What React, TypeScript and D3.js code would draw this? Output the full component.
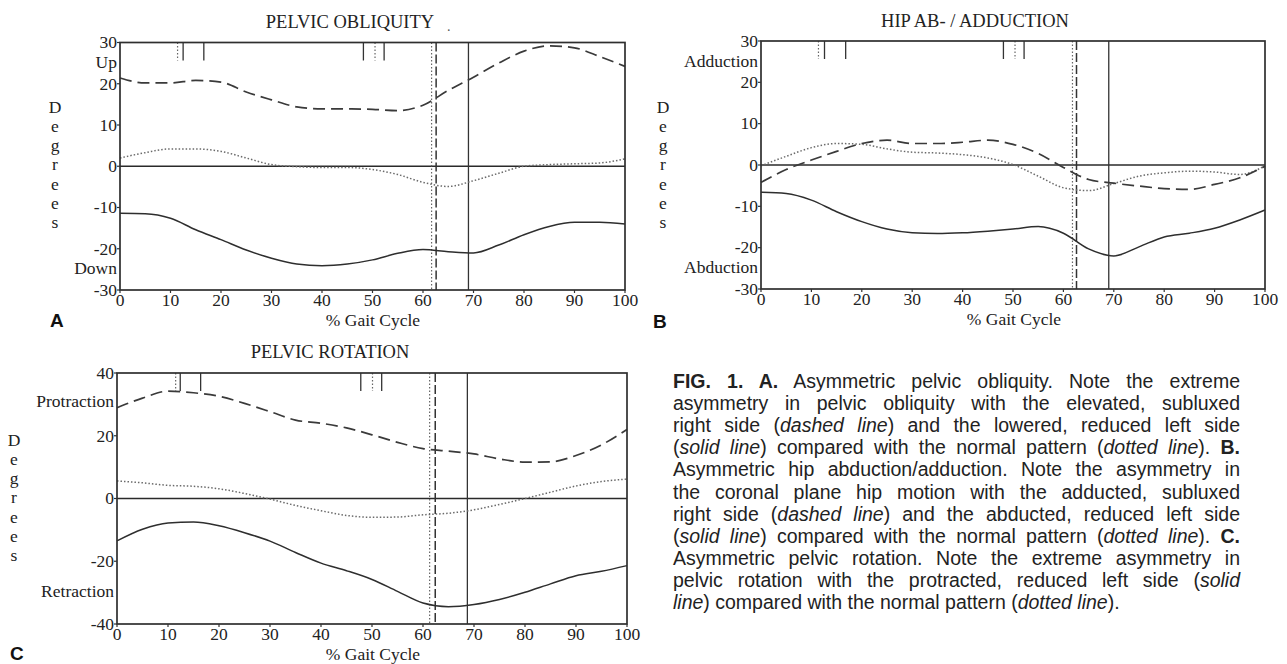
import React, { useLayoutEffect, useRef } from "react";
import * as d3 from "d3";

// ---------- DATA ----------
const gaitPct = [0, 5, 10, 15, 20, 25, 30, 35, 40, 45, 50, 55, 60, 65, 70, 75, 80, 85, 90, 95, 100];
const xTickValues = [0, 10, 20, 30, 40, 50, 60, 70, 80, 90, 100];

// A. Pelvic obliquity
const obliquityRight = [21.4, 20.2, 20.2, 20.8, 20.4, 18.0, 16.1, 14.4, 13.9, 13.9, 13.8, 13.5, 14.8, 18.4, 21.6, 25.0, 27.9, 29.2, 28.7, 26.6, 24.2];
const obliquityNormal = [2.0, 3.3, 4.2, 4.2, 3.6, 2.0, 0.4, -0.1, -0.3, -0.3, -0.8, -2.0, -3.9, -4.9, -3.5, -1.7, 0.0, 0.4, 0.6, 0.8, 1.8];
const obliquityLeft = [-11.4, -11.5, -12.6, -15.4, -17.8, -20.3, -22.3, -23.7, -24.1, -23.7, -22.7, -21.1, -20.2, -20.7, -21.0, -19.1, -16.6, -14.6, -13.6, -13.6, -14.0];
const obliquityTicks = [30, 20, 10, 0, -10, -20, -30];
const obliquityWords = [{ label: "Up", value: 25.2 }, { label: "Down", value: -24.6 }];
const obliquityFootDotted = [11.4, 50.5];
const obliquityFootSolid = [12.5, 16.6, 48.2, 52.3];
const obliquityEvents = { dotted: 61.7, dashed: 62.6, solid: 69.0 };

// B. Hip ab-/adduction
const hipRight = [-4.2, -1.1, 1.2, 3.3, 5.2, 6.0, 5.2, 5.2, 5.5, 6.0, 5.0, 2.8, -0.6, -3.5, -4.4, -5.1, -5.7, -5.9, -4.7, -3.1, -0.3];
const hipNormal = [-0.2, 2.1, 4.2, 5.2, 5.0, 3.9, 3.1, 2.9, 2.5, 1.7, 0.1, -2.7, -5.5, -6.2, -4.5, -2.7, -1.9, -1.5, -1.7, -2.3, -0.2];
const hipLeft = [-6.6, -6.9, -8.5, -11.3, -13.7, -15.5, -16.4, -16.6, -16.4, -16.0, -15.5, -14.9, -16.5, -20.3, -22.0, -19.8, -17.4, -16.5, -15.3, -13.3, -10.9];
const hipTicks = [30, 20, 10, 0, -10, -20, -30];
const hipWords = [{ label: "Adduction", value: 25.2 }, { label: "Abduction", value: -24.8 }];
const hipFootDotted = [11.4, 50.4];
const hipFootSolid = [12.6, 16.8, 48.1, 52.2];
const hipEvents = { dotted: 61.8, dashed: 62.6, solid: 69.0 };

// C. Pelvic rotation
const rotationRight = [28.9, 32.0, 34.2, 33.7, 32.6, 30.3, 27.7, 25.0, 24.0, 22.5, 20.3, 17.9, 15.9, 15.1, 14.2, 12.6, 11.6, 11.7, 13.7, 17.1, 22.0];
const rotationNormal = [5.6, 5.0, 4.2, 3.9, 3.1, 1.6, -0.2, -2.2, -3.9, -5.4, -6.0, -5.9, -5.2, -4.7, -3.6, -1.9, 0.0, 2.0, 4.0, 5.4, 6.2];
const rotationLeft = [-13.5, -9.8, -7.8, -7.5, -8.7, -10.9, -13.6, -17.2, -20.6, -23.0, -25.8, -29.6, -33.3, -34.5, -33.8, -32.2, -29.9, -27.2, -24.6, -23.2, -21.4];
const rotationTicks = [40, 20, 0, -20, -40];
const rotationWords = [{ label: "Protraction", value: 30.9 }, { label: "Retraction", value: -29.4 }];
const rotationFootDotted = [11.5, 50.1];
const rotationFootSolid = [12.4, 16.4, 47.8, 51.9];
const rotationEvents = { dotted: 61.3, dashed: 62.4, solid: 68.7 };

// Caption lines: segments [text, style] with style n=normal, b=bold, i=italic
const captionLines: [string, string][][] = [
  [["FIG. 1. A.", "b"], [" Asymmetric pelvic obliquity. Note the extreme", "n"]],
  [["asymmetry in pelvic obliquity with the elevated, subluxed", "n"]],
  [["right side (", "n"], ["dashed line", "i"], [") and the lowered, reduced left side", "n"]],
  [["(", "n"], ["solid line", "i"], [") compared with the normal pattern (", "n"], ["dotted line", "i"], ["). ", "n"], ["B.", "b"]],
  [["Asymmetric hip abduction/adduction. Note the asymmetry in", "n"]],
  [["the coronal plane hip motion with the adducted, subluxed", "n"]],
  [["right side (", "n"], ["dashed line", "i"], [") and the abducted, reduced left side", "n"]],
  [["(", "n"], ["solid line", "i"], [") compared with the normal pattern (", "n"], ["dotted line", "i"], ["). ", "n"], ["C.", "b"]],
  [["Asymmetric pelvic rotation. Note the extreme asymmetry in", "n"]],
  [["pelvic rotation with the protracted, reduced left side (", "n"], ["solid", "i"]],
  [["line", "i"], [") compared with the normal pattern (", "n"], ["dotted line", "i"], [").", "n"]],
];

// ---------- LAYOUT ----------
const SERIF = "'Liberation Serif', 'Times New Roman', serif";
const SANS = "'Liberation Sans', Arial, sans-serif";
const FS_TITLE = 18.5;
const FS = 17.5;
const INK = "#222";

type PanelCfg = {
  left: number; right: number; top: number; bottom: number;
  yMin: number; yMax: number;
  title: string; titleX: number; titleY: number;
  degX: number; degY: number;
  letter: string; letterX: number; letterY: number;
  gaitX: number; gaitY: number; tickY: number;
  stray?: { x: number; y: number };
};

const panelA: PanelCfg = {
  left: 120, right: 625, top: 42.5, bottom: 290, yMin: -30, yMax: 30,
  title: "PELVIC OBLIQUITY", titleX: 350, titleY: 28,
  degX: 55, degY: 107, letter: "A", letterX: 50, letterY: 327,
  gaitX: 373, gaitY: 325.5, tickY: 306, stray: { x: 447, y: 31 },
};
const panelB: PanelCfg = {
  left: 761, right: 1265, top: 41, bottom: 289, yMin: -30, yMax: 30,
  title: "HIP AB- / ADDUCTION", titleX: 975, titleY: 27,
  degX: 663, degY: 107, letter: "B", letterX: 653, letterY: 328,
  gaitX: 1014, gaitY: 324.5, tickY: 305,
};
const panelC: PanelCfg = {
  left: 117, right: 627, top: 373, bottom: 624, yMin: -40, yMax: 40,
  title: "PELVIC ROTATION", titleX: 330, titleY: 358,
  degX: 14, degY: 440, letter: "C", letterX: 10, letterY: 660,
  gaitX: 373, gaitY: 659.5, tickY: 640,
};

function Panel({ cfg, right, normal, left, yTicks, words, footDotted, footSolid, events }: any) {
  const x = d3.scaleLinear().domain([0, 100]).range([cfg.left, cfg.right]);
  const y = d3.scaleLinear().domain([cfg.yMin, cfg.yMax]).range([cfg.bottom, cfg.top]);
  const line = d3.line<number>()
    .x((_, i) => x(gaitPct[i]))
    .y((d) => y(d))
    .curve(d3.curveMonotoneX);
  const footLen = 18;
  const letters = "Degrees".split("");
  return (
    <g>
      <text x={cfg.titleX} y={cfg.titleY} textAnchor="middle" fontFamily={SERIF} fontSize={FS_TITLE} fill={INK}>{cfg.title}</text>
      {cfg.stray && <text x={cfg.stray.x} y={cfg.stray.y} fontFamily={SERIF} fontSize={14} fill="#555">.</text>}
      {/* zero line */}
      <line x1={cfg.left} x2={cfg.right} y1={y(0)} y2={y(0)} stroke="#2a2a2a" strokeWidth={1.5} />
      {/* events */}
      <line x1={x(events.dotted)} x2={x(events.dotted)} y1={cfg.top} y2={cfg.bottom} stroke="#666" strokeWidth={1.2} strokeDasharray="1.5 2" />
      <line x1={x(events.dashed)} x2={x(events.dashed)} y1={cfg.top} y2={cfg.bottom} stroke="#333" strokeWidth={1.5} strokeDasharray="9 3" />
      <line x1={x(events.solid)} x2={x(events.solid)} y1={cfg.top} y2={cfg.bottom} stroke="#333" strokeWidth={1.3} />
      {footDotted.map((v: number, i: number) => (
        <line key={"fd" + i} x1={x(v)} x2={x(v)} y1={cfg.top} y2={cfg.top + footLen} stroke="#666" strokeWidth={1.2} strokeDasharray="1.5 2" />
      ))}
      {footSolid.map((v: number, i: number) => (
        <line key={"fs" + i} x1={x(v)} x2={x(v)} y1={cfg.top} y2={cfg.top + footLen} stroke="#333" strokeWidth={1.3} />
      ))}
      {/* data */}
      <path d={line(normal) || ""} fill="none" stroke="#6a6a6a" strokeWidth={1.5} strokeDasharray="1.5 2" />
      <path d={line(right) || ""} fill="none" stroke="#3a3a3a" strokeWidth={1.7} strokeDasharray="12 6" />
      <path d={line(left) || ""} fill="none" stroke="#2e2e2e" strokeWidth={1.5} />
      {/* frame */}
      <rect x={cfg.left} y={cfg.top} width={cfg.right - cfg.left} height={cfg.bottom - cfg.top} fill="none" stroke="#2e2e2e" strokeWidth={1.7} />
      {/* y ticks */}
      {yTicks.map((t: number) => (
        <g key={"yt" + t}>
          <line x1={cfg.left - 3} x2={cfg.left} y1={y(t)} y2={y(t)} stroke="#333" strokeWidth={1.2} />
          <text x={cfg.left - 3} y={y(t)} dy="0.33em" textAnchor="end" fontFamily={SERIF} fontSize={FS} fill={INK}>{t}</text>
        </g>
      ))}
      {words.map((w: any) => (
        <text key={w.label} x={cfg.left - 3} y={y(w.value)} dy="0.33em" textAnchor="end" fontFamily={SERIF} fontSize={FS} fill={INK}>{w.label}</text>
      ))}
      {/* x ticks */}
      {xTickValues.map((t) => (
        <g key={"xt" + t}>
          <line x1={x(t)} x2={x(t)} y1={cfg.bottom} y2={cfg.bottom + 3} stroke="#333" strokeWidth={1.2} />
          <text x={x(t)} y={cfg.tickY} textAnchor="middle" fontFamily={SERIF} fontSize={FS} fill={INK}>{t}</text>
        </g>
      ))}
      <text x={cfg.gaitX} y={cfg.gaitY} textAnchor="middle" fontFamily={SERIF} fontSize={FS} fill={INK}>% Gait Cycle</text>
      {letters.map((c, i) => (
        <text key={"dg" + i} x={cfg.degX} y={cfg.degY + i * 19.2} dy="0.33em" textAnchor="middle" fontFamily={SERIF} fontSize={FS} fill={INK}>{c}</text>
      ))}
      <text x={cfg.letterX} y={cfg.letterY} fontFamily={SANS} fontWeight="bold" fontSize={19} fill="#111">{cfg.letter}</text>
    </g>
  );
}

const CAP_X = 673;
const CAP_W = 567;
const CAP_Y0 = 388;
const CAP_DY = 22.1;
const CAP_FS = 19.5;

function Caption() {
  const refs = useRef<(SVGTextElement | null)[]>([]);
  useLayoutEffect(() => {
    refs.current.forEach((el, i) => {
      if (!el || i === captionLines.length - 1) return;
      el.style.wordSpacing = "0px";
      const w = el.getComputedTextLength();
      const full = captionLines[i].map((s) => s[0]).join("");
      const spaces = (full.match(/ /g) || []).length;
      if (spaces > 0) el.style.wordSpacing = (CAP_W - w) / spaces + "px";
    });
  }, []);
  return (
    <g>
      {captionLines.map((segs, i) => (
        <text
          key={i}
          ref={(el) => { refs.current[i] = el; }}
          x={CAP_X}
          y={CAP_Y0 + i * CAP_DY}
          fontFamily={SANS}
          fontSize={CAP_FS}
          fill="#222"
          style={{ whiteSpace: "pre" }}
        >
          {segs.map((s, j) => (
            <tspan key={j} fontWeight={s[1] === "b" ? "bold" : "normal"} fontStyle={s[1] === "i" ? "italic" : "normal"}>{s[0]}</tspan>
          ))}
        </text>
      ))}
    </g>
  );
}

export default function App() {
  return (
    <svg width={1287} height={664} style={{ position: "absolute", left: 0, top: 0, background: "#fff" }}>
      <rect width={1287} height={664} fill="#fff" />
      <Panel cfg={panelA} right={obliquityRight} normal={obliquityNormal} left={obliquityLeft}
        yTicks={obliquityTicks} words={obliquityWords} footDotted={obliquityFootDotted}
        footSolid={obliquityFootSolid} events={obliquityEvents} />
      <Panel cfg={panelB} right={hipRight} normal={hipNormal} left={hipLeft}
        yTicks={hipTicks} words={hipWords} footDotted={hipFootDotted}
        footSolid={hipFootSolid} events={hipEvents} />
      <Panel cfg={panelC} right={rotationRight} normal={rotationNormal} left={rotationLeft}
        yTicks={rotationTicks} words={rotationWords} footDotted={rotationFootDotted}
        footSolid={rotationFootSolid} events={rotationEvents} />
      <Caption />
    </svg>
  );
}
